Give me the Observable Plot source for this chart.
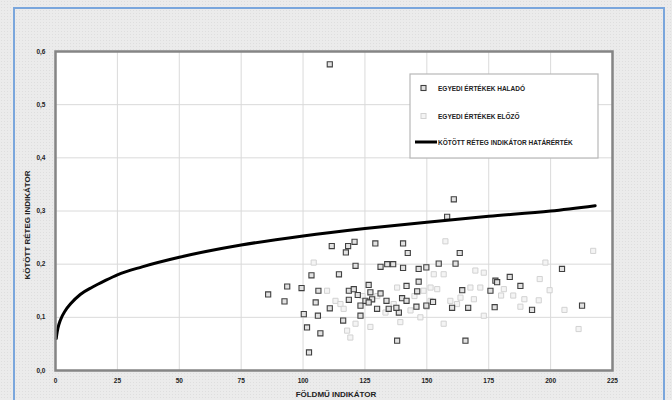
<!DOCTYPE html>
<html>
<head>
<meta charset="utf-8">
<script src="https://cdn.jsdelivr.net/npm/d3@7"></script>
<script src="https://cdn.jsdelivr.net/npm/@observablehq/plot@0.6"></script>
<style>
  html, body { margin: 0; padding: 0; }
  body { width: 672px; height: 400px; overflow: hidden; position: relative;
         background-color: #ebebeb;
         background-image: radial-gradient(#dedede 0.6px, transparent 0.7px);
         background-size: 3px 3px; }
  #frame { position: absolute; left: 13px; top: 7px; width: 652px; height: 400px;
           border: 2px solid #7aa6dc; box-sizing: border-box; }
  #chart { position: absolute; left: 0; top: 0; }
</style>
</head>
<body>
<div id="frame"></div>
<div id="chart"></div>
<script>
const xTicks = [0, 25, 50, 75, 100, 125, 150, 175, 200, 225];
const yTicks = [0, 0.1, 0.2, 0.3, 0.4, 0.5, 0.6];
const xLabel = "FÖLDMŰ INDIKÁTOR";
const yLabel = "KÖTÖTT RÉTEG INDIKÁTOR";
const seriesNames = ["EGYEDI ÉRTÉKEK HALADÓ", "EGYEDI ÉRTÉKEK ELŐZŐ", "KÖTÖTT RÉTEG INDIKÁTOR HATÁRÉRTÉK"];

// Threshold curve
const curveX = [0.3, 0.5, 1, 2, 4, 6, 10, 15, 20, 25, 35, 50, 75, 100, 125, 150, 175, 200, 218];
const curveY = [0.060, 0.067, 0.080, 0.095, 0.113, 0.125, 0.143, 0.157, 0.169, 0.180, 0.195, 0.213, 0.236, 0.253, 0.267, 0.279, 0.290, 0.300, 0.310];

// "Haladó" individual values (dark squares)
const haladoX = [85.9, 92.5, 93.6, 99.4, 100.3, 101.6, 102.4, 103.4, 105.1, 106.2, 106.0, 107.0, 110.8, 111.6, 110.8, 114.5, 116.2, 117.3, 118.2, 120.8, 118.5, 120.5, 118.5, 122.1, 121.2, 123.2, 123.2, 125.2, 127.9, 126.5, 126.5, 127.2, 131.3, 129.2, 129.9, 134.6, 133.7, 131.3, 134.0, 136.4, 138.7, 138.0, 140.4, 142.3, 140.4, 146.7, 149.8, 154.8, 161.6, 146.7, 141.8, 146.1, 140.0, 141.8, 145.8, 149.8, 152.5, 137.7, 160.2, 166.7, 164.3, 163.3, 160.9, 158.2, 165.6, 175.7, 177.7, 178.4, 183.5, 177.4, 187.8, 192.5, 204.6, 212.7];
const haladoY = [0.143, 0.130, 0.158, 0.155, 0.106, 0.081, 0.034, 0.179, 0.128, 0.150, 0.103, 0.070, 0.117, 0.234, 0.576, 0.181, 0.094, 0.222, 0.234, 0.242, 0.150, 0.153, 0.133, 0.142, 0.197, 0.122, 0.103, 0.131, 0.134, 0.128, 0.161, 0.147, 0.145, 0.239, 0.116, 0.116, 0.131, 0.195, 0.200, 0.200, 0.109, 0.056, 0.239, 0.221, 0.193, 0.191, 0.194, 0.201, 0.201, 0.167, 0.159, 0.149, 0.136, 0.131, 0.120, 0.122, 0.129, 0.118, 0.118, 0.118, 0.151, 0.221, 0.322, 0.289, 0.056, 0.150, 0.169, 0.166, 0.176, 0.119, 0.159, 0.114, 0.191, 0.122];

// "Előző" individual values (light squares)
const elozoX = [104.3, 109.7, 113.1, 115.1, 116.4, 117.8, 119.1, 121.2, 127.2, 133.3, 136.6, 138.0, 139.3, 143.4, 147.4, 148.7, 151.5, 151.5, 152.8, 154.2, 156.8, 156.8, 157.5, 159.5, 162.2, 163.6, 167.6, 169.0, 169.6, 171.6, 173.0, 173.0, 181.1, 180.0, 184.9, 187.8, 189.4, 195.2, 195.6, 197.9, 199.6, 205.6, 211.3, 217.2, 124.0, 130.0, 145.0, 150.0];
const elozoY = [0.203, 0.150, 0.131, 0.125, 0.116, 0.075, 0.062, 0.088, 0.082, 0.109, 0.125, 0.156, 0.091, 0.113, 0.100, 0.150, 0.156, 0.131, 0.181, 0.153, 0.181, 0.088, 0.243, 0.131, 0.125, 0.137, 0.156, 0.134, 0.188, 0.156, 0.184, 0.103, 0.153, 0.141, 0.141, 0.120, 0.134, 0.132, 0.172, 0.203, 0.151, 0.114, 0.078, 0.225, 0.140, 0.140, 0.140, 0.120];

const curve = curveX.map((x, i) => ({x, y: curveY[i]}));
const halado = haladoX.map((x, i) => ({x, y: haladoY[i]}));
const elozo = elozoX.map((x, i) => ({x, y: elozoY[i]}));

const fmt = d => d.toFixed(1).replace(".", ",");

const svg = Plot.plot({
  width: 672,
  height: 400,
  marginLeft: 55,
  marginRight: 60,
  marginTop: 51,
  marginBottom: 30,
  style: {background: "transparent", fontFamily: "Liberation Sans, Arial, sans-serif", fontSize: "6.5px", fontWeight: "bold", color: "#222"},
  x: {domain: [0, 225]},
  y: {domain: [0, 0.6]},
  marks: [
    Plot.frame({fill: "white", stroke: null}),
    Plot.gridX(xTicks, {stroke: "#dadada", strokeOpacity: 1, strokeWidth: 1}),
    Plot.gridY(yTicks, {stroke: "#dadada", strokeOpacity: 1, strokeWidth: 1}),
    Plot.axisX(xTicks, {tickSize: 0, tickPadding: 8, label: null, fill: "#222"}),
    Plot.axisY(yTicks, {tickSize: 0, tickPadding: 10, label: null, tickFormat: fmt, fill: "#222"}),
    Plot.dot(elozo, {x: "x", y: "y", symbol: "square", r: 2.9, stroke: "#d2d2d2", fill: "#f4f4f4", strokeWidth: 1}),
    Plot.dot(halado, {x: "x", y: "y", symbol: "square", r: 2.9, stroke: "#404040", fill: "#e2e2e2", strokeWidth: 1.1}),
    Plot.line(curve, {x: "x", y: "y", stroke: "#000", strokeWidth: 3, curve: "monotone-x"}),
    Plot.frame({stroke: "#858585", strokeWidth: 2.5})
  ]
});

const s = d3.select(svg);
// axis titles
s.append("text").attr("x", 336).attr("y", 397).attr("text-anchor", "middle")
  .attr("font-size", "8px").attr("font-weight", "bold").attr("fill", "#222").text(xLabel);
s.append("text").attr("transform", "translate(30,225) rotate(-90)").attr("text-anchor", "middle")
  .attr("font-size", "8px").attr("font-weight", "bold").attr("fill", "#222").text(yLabel);

// legend
const lg = s.append("g").attr("font-size", "6.5px").attr("font-weight", "bold").attr("fill", "#222").attr("text-anchor", "start");
lg.append("rect").attr("x", 410).attr("y", 74).attr("width", 188).attr("height", 84)
  .attr("fill", "white").attr("stroke", "#b8b8b8").attr("stroke-width", 1.2);
lg.append("rect").attr("x", 421).attr("y", 85.5).attr("width", 5).attr("height", 5)
  .attr("fill", "#e2e2e2").attr("stroke", "#404040").attr("stroke-width", 1.1);
lg.append("text").attr("x", 438).attr("y", 90.5).text(seriesNames[0]);
lg.append("rect").attr("x", 421).attr("y", 113.5).attr("width", 5).attr("height", 5)
  .attr("fill", "#f4f4f4").attr("stroke", "#d2d2d2").attr("stroke-width", 1);
lg.append("text").attr("x", 438).attr("y", 118.5).text(seriesNames[1]);
lg.append("line").attr("x1", 415).attr("x2", 437).attr("y1", 142).attr("y2", 142)
  .attr("stroke", "#000").attr("stroke-width", 3);
lg.append("text").attr("x", 438).attr("y", 144.5).text(seriesNames[2]);

document.getElementById("chart").appendChild(svg);
</script>
</body>
</html>
